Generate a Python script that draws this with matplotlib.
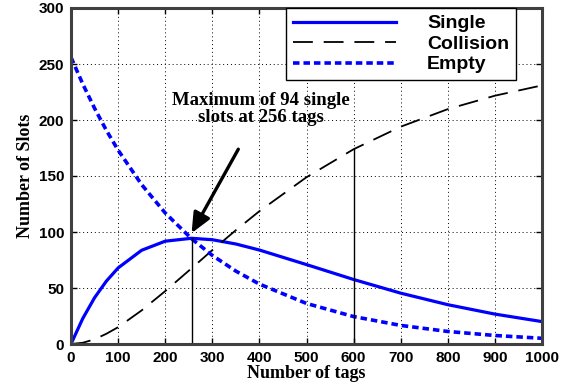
import numpy as np
import matplotlib.pyplot as plt

# values (frame of 256 slots)
tags = [0, 25, 50, 75, 100, 150, 200, 256, 300, 350, 400, 500, 600, 700, 800, 900, 1000]
single = [0, 22.8, 41.3, 56.1, 67.9, 83.7, 91.8, 94.4, 93.1, 89.3, 83.9, 70.9, 57.6, 45.4, 35.1, 26.7, 20.0]
collision = [0, 1.1, 4.2, 9.1, 15.0, 30.0, 47.2, 67.6, 83.8, 101.6, 118.6, 148.9, 173.9, 194.0, 209.7, 221.7, 230.9]
empty = [256, 232.1, 210.5, 190.8, 173.1, 142.3, 117.0, 94.0, 79.1, 65.1, 53.5, 36.2, 24.5, 16.6, 11.2, 7.6, 5.1]

peak_tag, peak_single = 256, 94.4
mark_tag, mark_collision = 600, 173.9

fig = plt.figure(figsize=(5.73, 3.84), dpi=100)
ax = fig.add_axes([71 / 573, 40 / 384, 471 / 573, 336 / 384])

ax.plot(tags, single, color='blue', lw=2.3, label='Single')
ax.plot(tags, collision, color='black', lw=1.3, dashes=(11, 6), label='Collision')
ax.plot(tags, empty, color='blue', lw=2.6, dashes=(1.8, 1.1), label='Empty')

# marker lines
ax.plot([peak_tag, peak_tag], [0, peak_single], color='black', lw=1)
ax.plot([mark_tag, mark_tag], [0, mark_collision], color='black', lw=1)

ax.annotate('Maximum of 94 single\nslots at 256 tags', xy=(peak_tag, 99), xytext=(403, 210),
            ha='center', va='center', fontsize=13.5, fontweight='bold', family='Liberation Serif',
            linespacing=1.0,
            arrowprops=dict(arrowstyle='-|>,head_length=0.9,head_width=0.4', color='black',
                            lw=2.4, shrinkA=17, shrinkB=0))

ax.set_xlim(0, 1000)
ax.set_ylim(0, 300)
ax.set_xticks(np.arange(0, 1001, 100))
ax.set_yticks(np.arange(0, 301, 50))
ax.grid(True, color='black', linestyle=(0, (1, 3)), lw=0.7)
ax.tick_params(direction='in', length=4, width=1, top=True, right=True, pad=5)
for lbl in ax.get_xticklabels() + ax.get_yticklabels():
    lbl.set_fontweight('bold')
    lbl.set_family('Liberation Sans')
    lbl.set_fontsize(11)
for s in ax.spines.values():
    s.set_linewidth(2.2)
    s.set_color('#404040')

ax.set_xlabel('Number of tags', fontsize=13, fontweight='bold', family='Liberation Serif', labelpad=0)
ax.set_ylabel('Number of Slots', fontsize=13, fontweight='bold', family='Liberation Serif', labelpad=3)

leg = ax.legend(loc='upper right', bbox_to_anchor=(0.945, 1.0), handlelength=5.3,
                prop={'family': 'Liberation Sans', 'weight': 'bold', 'size': 14},
                fancybox=False, framealpha=1, edgecolor='black', borderpad=0.35,
                labelspacing=0.15, handletextpad=1.6, borderaxespad=0)
leg.get_frame().set_linewidth(1)

fig.savefig('out.png', dpi=100)
